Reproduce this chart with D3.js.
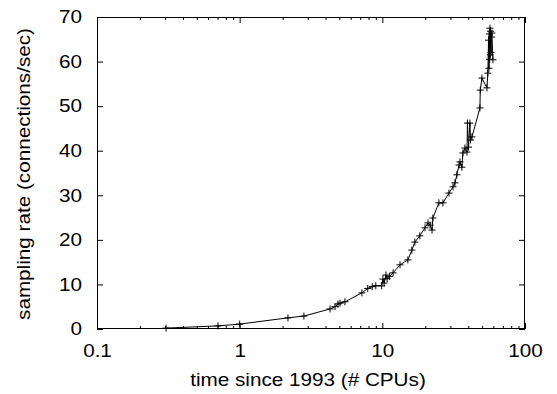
<!DOCTYPE html>
<html>
<head>
<meta charset="utf-8">
<script src="https://cdn.jsdelivr.net/npm/d3@7"></script>
<style>
  html, body { margin: 0; padding: 0; background: #fff; }
  svg { display: block; font-family: "Liberation Sans", Arial, Helvetica, sans-serif; }
</style>
</head>
<body>
<svg id="chart" width="557" height="394"></svg>
<script>
// Sampling rate against time since 1993, measured in CPUs
const cpus = [0.305, 0.705, 1.0, 2.18, 2.82, 4.30, 4.66, 4.89, 5.05, 5.47, 7.19, 7.9, 8.5, 9.0, 9.9,
  10.1, 10.3, 10.6, 10.8, 11.2, 11.9, 13.3, 15.1, 16.1, 16.9, 18.3, 19.9, 20.9, 21.6, 22.3, 22.6,
  24.9, 26.6, 29.3, 31.3, 32.3, 33.3, 34.5, 35.0, 36.1, 36.7, 37.9, 39.2, 39.5, 40.2, 41.1, 41.5,
  42.5, 48.3, 48.6, 49.9, 54.1, 54.9, 55.5, 55.9, 56.2, 56.5, 56.8, 57.1, 57.4, 57.8, 58.2, 58.6, 59.6];
const rates = [0.2, 0.7, 1.1, 2.5, 2.9, 4.5, 5.0, 5.6, 5.8, 6.1, 8.1, 9.1, 9.5, 9.7, 9.7,
  11.2, 10.3, 12.1, 11.3, 11.8, 12.6, 14.4, 15.5, 17.7, 19.5, 20.9, 22.7, 23.8, 23.3, 22.2, 24.9,
  28.3, 28.3, 30.5, 31.9, 32.8, 34.6, 36.8, 37.5, 36.3, 39.5, 40.6, 39.7, 46.2, 40.8, 46.2, 42.4,
  43.1, 49.6, 53.6, 56.3, 54.1, 57.4, 64.8, 58.5, 66.2, 60.5, 67.5, 61.5, 66.8, 62.0, 65.5, 66.4, 60.4];

const xTicks = [0.1, 1, 10, 100];
const yTicks = [0, 10, 20, 30, 40, 50, 60, 70];
const xTitle = "time since 1993 (# CPUs)";
const yTitle = "sampling rate (connections/sec)";

const plotL = 97, plotR = 525, plotT = 17, plotB = 329;
const fontPx = 18, stretch = 1.15;   // text is drawn slightly widened
const svg = d3.select("#chart");

const x = d3.scaleLog().domain([0.1, 100]).range([plotL, plotR]);
const y = d3.scaleLinear().domain([0, 70]).range([plotB, plotT]);

const minorX = [];
[0.1, 1, 10].forEach(d => { for (let k = 2; k <= 9; k++) minorX.push(+(d * k).toPrecision(3)); });

function styleAxis(g) {
  g.select(".domain").remove();
  g.selectAll("line").attr("stroke", "#000").attr("stroke-width", 1);
  g.attr("font-family", null).attr("font-size", null);
  g.selectAll("text")
    .attr("fill", "#000")
    .style("font-size", fontPx + "px")
    .each(function () {
      const t = d3.select(this);
      const tx = +t.attr("x") || 0;
      t.attr("x", tx / stretch).attr("transform", `scale(${stretch},1)`);
    });
}

// bottom axis with labels, top mirror without
svg.append("g").attr("transform", `translate(0,${plotB})`)
  .call(d3.axisBottom(x).tickValues(xTicks).tickFormat(d3.format("~g")).tickSize(-6).tickPadding(15))
  .call(styleAxis);
svg.append("g").attr("transform", `translate(0,${plotB})`)
  .call(d3.axisBottom(x).tickValues(minorX).tickFormat("").tickSize(-3))
  .call(styleAxis);
svg.append("g").attr("transform", `translate(0,${plotT})`)
  .call(d3.axisTop(x).tickValues(xTicks).tickFormat("").tickSize(-6))
  .call(styleAxis);
svg.append("g").attr("transform", `translate(0,${plotT})`)
  .call(d3.axisTop(x).tickValues(minorX).tickFormat("").tickSize(-3))
  .call(styleAxis);

// left axis with labels, right mirror without
svg.append("g").attr("transform", `translate(${plotL},0)`)
  .call(d3.axisLeft(y).tickValues(yTicks).tickSize(-6).tickPadding(15))
  .call(styleAxis);
svg.append("g").attr("transform", `translate(${plotR},0)`)
  .call(d3.axisRight(y).tickValues(yTicks).tickFormat("").tickSize(-6))
  .call(styleAxis);

// frame
svg.append("rect")
  .attr("x", plotL + 0.5).attr("y", plotT + 0.5)
  .attr("width", plotR - plotL - 1).attr("height", plotB - plotT - 1)
  .attr("fill", "none").attr("stroke", "#000").attr("stroke-width", 1);

// data line
const pts = cpus.map((c, i) => [c, rates[i]]);
svg.append("path")
  .datum(pts)
  .attr("fill", "none")
  .attr("stroke", "#000")
  .attr("stroke-width", 1)
  .attr("d", d3.line().x(d => x(d[0])).y(d => y(d[1])));

// plus markers
const m = 3.5;
svg.append("g").selectAll("path.pt").data(pts).join("path")
  .attr("class", "pt")
  .attr("fill", "none")
  .attr("stroke", "#000")
  .attr("stroke-width", 1)
  .attr("d", d => {
    const px = x(d[0]), py = y(d[1]);
    return `M${px - m},${py}H${px + m}M${px},${py - m}V${py + m}`;
  });

// axis titles
svg.append("text")
  .attr("transform", `translate(${(plotL + plotR) / 2 - 3},386) scale(${stretch},1)`)
  .attr("text-anchor", "middle")
  .style("font-size", fontPx + "px")
  .text(xTitle);
svg.append("text")
  .attr("transform", `translate(30,${(plotT + plotB) / 2 + 1}) rotate(-90) scale(${stretch},1)`)
  .attr("text-anchor", "middle")
  .style("font-size", fontPx + "px")
  .text(yTitle);
</script>
</body>
</html>
